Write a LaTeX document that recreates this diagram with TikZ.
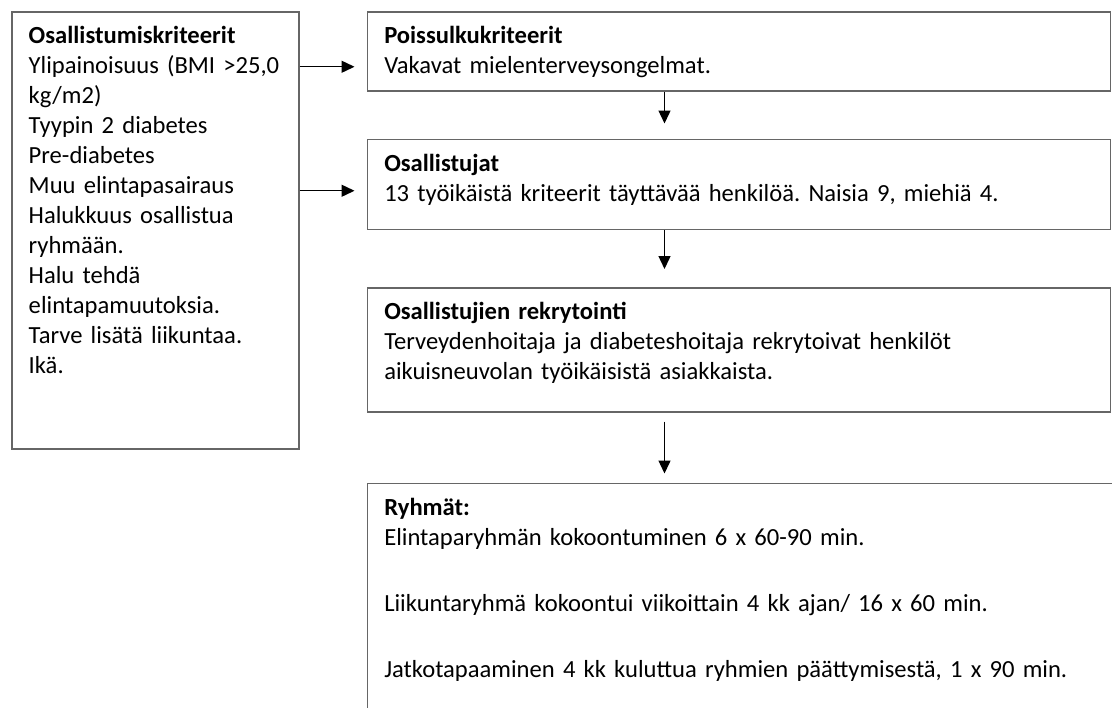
\documentclass[tikz,border=0pt]{standalone}
\usepackage{fontspec}
\setmainfont{Carlito}
\usetikzlibrary{positioning, arrows.meta, calc}
\hyphenpenalty=10000
\exhyphenpenalty=10000
\frenchspacing

\begin{document}
\begin{tikzpicture}[x=0.5pt, y=-0.5pt, node font=\fontsize{12.3pt}{15pt}\selectfont,
	box/.style={draw=black!60, line width=0.75pt, align=left, inner xsep=8.5pt, inner ysep=0pt, text height=16pt},
	>={Triangle[length=6.5pt,width=6pt]}]
	\useasboundingbox (0,0) rectangle (1112,707);
	\clip (0,0) rectangle (1112,707);
	
	\node[box, anchor=north west, text width=126.5pt, text depth=202.5pt] (crit) at (11,11) {\textbf{Osallistumiskriteerit}\\
		Ylipainoisuus (BMI >25,0 kg/m2)\\
		Tyypin 2 diabetes\\
		Pre-diabetes\\
		Muu elintapasairaus\\
		Halukkuus osallistua ryhmään.\\
		Halu tehdä elintapamuutoksia.\\
		Tarve lisätä liikuntaa.\\
		Ikä.};
	
	\node[box, text width=354.5pt, text depth=23.5pt, below right=0pt and 33.5pt of crit.north east] (excl) {\textbf{Poissulkukriteerit}\\
		Vakavat mielenterveysongelmat.};
	\node[box, text width=354.5pt, text depth=29pt, below=23.5pt of excl] (part) {\textbf{Osallistujat}\\
		13 työikäistä kriteerit täyttävää henkilöä. Naisia 9, miehiä 4.};
	\node[box, text width=354.5pt, text depth=46pt, below=28.5pt of part] (recr) {\textbf{Osallistujien rekrytointi}\\
		Terveydenhoitaja ja diabeteshoitaja rekrytoivat henkilöt aikuisneuvolan työikäisistä asiakkaista.};
	\node[box, text width=370.5pt, text depth=114.5pt, below right=35pt and 0pt of recr.south west] (grp) {\textbf{Ryhmät:}\\
		Elintaparyhmän kokoontuminen 6 x 60-90 min.\\[18pt]
		Liikuntaryhmä kokoontui viikoittain 4 kk ajan/ 16 x 60 min.\\[18pt]
		Jatkotapaaminen 4 kk kuluttua ryhmien päättymisestä, 1 x 90 min.};
	
	\coordinate (axis) at ([xshift=149pt]excl.south west);
	\coordinate (in1) at ($(excl.west)+(0,15.5)$);
	\coordinate (in2) at ($(part.west)+(0,6.5)$);
	
	\path[->, line width=0.7pt] (crit.east |- in1) edge[shorten >=6pt] (in1)
	(crit.east |- in2) edge[shorten >=6pt] (in2)
	(excl.south -| axis) edge[shorten >=7.5pt] (part.north -| axis)
	(part.south -| axis) edge[shorten >=9pt] (recr.north -| axis)
	(recr.south -| axis) edge[shorten <=4.5pt, shorten >=4.5pt] (grp.north -| axis)
	;
	
\end{tikzpicture}
\end{document}
